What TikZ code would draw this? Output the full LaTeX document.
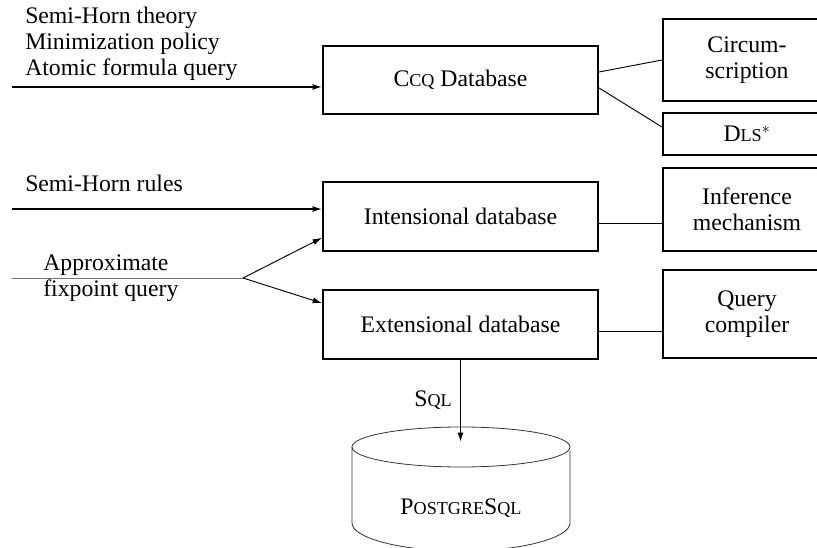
\documentclass[tikz,border=0pt]{standalone}
\usepackage{fontspec}
\setmainfont{Liberation Serif}
\usetikzlibrary{arrows.meta}
% faked small capitals (Liberation Serif has no smcp feature)
\newcommand\smallc[1]{{\fontsize{13.6pt}{13.6pt}\selectfont #1}}
\begin{document}
\begin{tikzpicture}[x=0.75pt,y=-0.75pt,
  every node/.style={font=\fontsize{17.8pt}{19.5pt}\selectfont, inner sep=0pt},
  box/.style={draw, line width=1.5pt, align=center},
  widebox/.style={box, minimum width=206.25pt, minimum height=51.5pt},
  sidebox/.style={box, minimum width=126pt},
  link/.style={line width=0.7pt},
  feed/.style={line width=1.1pt, -{Latex[length=7pt,width=4.5pt]}},
  split/.style={line width=0.7pt, -{Latex[length=7pt,width=4.5pt]}},
  tap/.style={line width=0.7pt, black!55},
  drum/.style={line width=0.6pt, black!80}]
\clip (0,0) rectangle (817,548);

% main column
\node[widebox] (ccq) at (460.5,80) {C\smallc{CQ} Database};
\node[widebox] (int) at (460.5,216.5) {Intensional database};
\node[widebox] (ext) at (460.5,324.5) {Extensional database};

% side column
\node[sidebox, minimum height=61.5pt] (circ) at (747,60) {Circum-\\scription};
\node[sidebox, minimum height=31.5pt] (dls) at (747,134) {D\smallc{LS}$^{*}$};
\node[sidebox, minimum height=62.25pt] (inf) at (747,209.5) {Inference\\mechanism};
\node[sidebox, minimum height=66pt] (qc) at (747,314) {Query\\compiler};

% side links
\draw[link] ([yshift=6pt]ccq.east) -- (circ.west);
\draw[link] ([yshift=-6pt]ccq.east) -- ([yshift=5.25pt]dls.west);
\draw[link] ([yshift=-5pt]int.east) -- ([yshift=-5pt]int.east -| inf.west);
\draw[link] ([yshift=-5.6pt]ext.east) -- ([yshift=-5.6pt]ext.east -| qc.west);

% inputs
\node[anchor=west, align=left] (t1) at (25,44) {Semi-Horn theory\\Minimization policy\\Atomic formula query};
\coordinate (s1) at (12,87);
\draw[feed] (s1) -- (s1 -| ccq.west);

\node[anchor=west] (t2) at (25,183) {Semi-Horn rules};
\coordinate (s2) at (12,209);
\draw[feed] (s2) -- (s2 -| int.west);

\node[anchor=west, align=left] (t3) at (43,278) {Approximate\\fixpoint query};
\coordinate (s3) at (12,278);
\coordinate (fork) at (243,278);
\draw[tap] (s3) -- (fork);
\draw[split] (fork) -- ([yshift=-16pt]int.west);
\draw[split] (fork) -- ([yshift=16pt]ext.west);

% database drum
\coordinate (dbtop) at (460.5,442);
\draw[drum] (461,447) ellipse [x radius=81.75pt, y radius=15pt];
\draw[drum] (352,447) -- (352,523)
  .. controls (352,538) and (400.8,551) .. (461,551)
  .. controls (521.2,551) and (570,538) .. (570,523) -- (570,451);
\node (pg) at (461,508) {P\smallc{OSTGRE}S\smallc{QL}};

\draw[feed] (ext.south) -- (dbtop);
\node (sql) at (433,400) {S\smallc{QL}};
\end{tikzpicture}
\end{document}
